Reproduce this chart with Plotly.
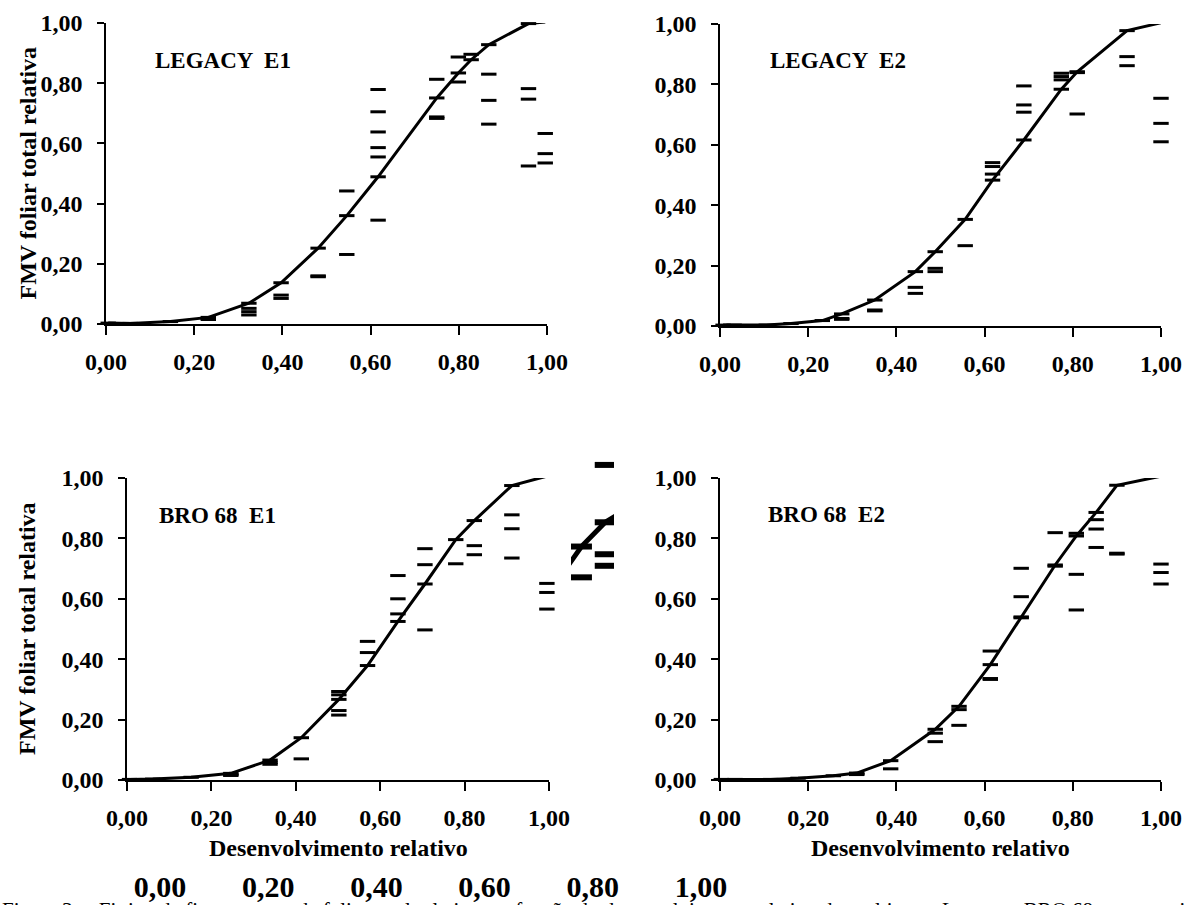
import plotly.graph_objects as go

W, H = 1192, 905

# ---------------- data ----------------
tick_values = [0.0, 0.2, 0.4, 0.6, 0.8, 1.0]
tick_labels = ["0,00", "0,20", "0,40", "0,60", "0,80", "1,00"]
panel_labels = ["LEGACY  E1", "LEGACY  E2", "BRO 68  E1", "BRO 68  E2"]
y_title = "FMV foliar total relativa"
x_title = "Desenvolvimento relativo"
caption = ("Figura 3 \u2013  Fitting da fitomassa verde foliar total relativa em fun\u00e7\u00e3o do "
           "desenvolvimento relativo das cultivares Legacy e BRO 68 nos experimentos E1 e E2, "
           "Santa Maria, RS")

# LEGACY E1
leg1_fit_x = [0.005, 0.055, 0.146, 0.232, 0.324, 0.397, 0.481, 0.546, 0.617, 0.750, 0.799, 0.828, 0.868, 0.958, 0.996]
leg1_fit_y = [0.003, 0.002, 0.008, 0.022, 0.069, 0.137, 0.252, 0.360, 0.489, 0.751, 0.834, 0.878, 0.928, 0.998, 1.003]
leg1_obs_x = [0.232, 0.232, 0.324, 0.324, 0.324, 0.397, 0.397, 0.481, 0.481, 0.546, 0.546,
              0.617, 0.617, 0.617, 0.617, 0.617, 0.617, 0.750, 0.750, 0.750, 0.799, 0.799,
              0.828, 0.828, 0.868, 0.868, 0.868, 0.958, 0.958, 0.958, 0.996, 0.996, 0.996]
leg1_obs_y = [0.015, 0.018, 0.052, 0.041, 0.030, 0.096, 0.085, 0.157, 0.160, 0.442, 0.231,
              0.779, 0.705, 0.638, 0.586, 0.555, 0.345, 0.813, 0.688, 0.683, 0.887, 0.804,
              1.006, 0.896, 0.830, 0.743, 0.664, 0.782, 0.747, 0.525, 0.633, 0.566, 0.535]

# LEGACY E2
leg2_fit_x = [0.007, 0.032, 0.105, 0.161, 0.232, 0.276, 0.351, 0.443, 0.488, 0.556, 0.618, 0.689, 0.774, 0.810, 0.923, 1.000]
leg2_fit_y = [0.003, 0.003, 0.003, 0.008, 0.018, 0.040, 0.086, 0.180, 0.246, 0.353, 0.483, 0.616, 0.784, 0.842, 0.978, 1.004]
leg2_obs_x = [0.276, 0.276, 0.351, 0.351, 0.443, 0.443, 0.488, 0.488, 0.556, 0.618, 0.618, 0.618,
              0.689, 0.689, 0.689, 0.774, 0.774, 0.774, 0.810, 0.810, 0.810, 0.923, 0.923,
              1.000, 1.000, 1.000]
leg2_obs_y = [0.022, 0.025, 0.050, 0.053, 0.128, 0.108, 0.191, 0.180, 0.266, 0.541, 0.528, 0.503,
              0.795, 0.732, 0.708, 0.837, 0.826, 0.815, 1.004, 0.839, 0.702, 0.892, 0.862,
              0.754, 0.671, 0.610]

# BRO 68 E1
bro1_fit_x = [0.006, 0.061, 0.152, 0.246, 0.339, 0.413, 0.502, 0.570, 0.642, 0.706, 0.779, 0.823, 0.912, 0.995]
bro1_fit_y = [0.002, 0.003, 0.009, 0.022, 0.066, 0.140, 0.267, 0.379, 0.525, 0.649, 0.796, 0.859, 0.975, 1.006]
bro1_obs_x = [0.246, 0.246, 0.339, 0.339, 0.413, 0.502, 0.502, 0.502, 0.502, 0.570, 0.570,
              0.642, 0.642, 0.642, 0.706, 0.706, 0.706, 0.779, 0.823, 0.823, 0.823,
              0.912, 0.912, 0.912, 0.995, 0.995, 0.995]
bro1_obs_y = [0.015, 0.018, 0.052, 0.058, 0.070, 0.293, 0.282, 0.230, 0.215, 0.459, 0.422,
              0.677, 0.600, 0.550, 0.766, 0.713, 0.497, 0.716, 1.008, 0.776, 0.746,
              0.878, 0.832, 0.735, 0.651, 0.621, 0.566]

# BRO 68 E2
bro2_fit_x = [0.003, 0.034, 0.115, 0.177, 0.257, 0.310, 0.387, 0.488, 0.542, 0.613, 0.683, 0.760, 0.808, 0.853, 0.900, 1.000]
bro2_fit_y = [0.002, 0.002, 0.002, 0.006, 0.014, 0.023, 0.064, 0.168, 0.244, 0.382, 0.540, 0.712, 0.808, 0.886, 0.976, 1.006]
bro2_obs_x = [0.310, 0.310, 0.387, 0.488, 0.488, 0.542, 0.542, 0.613, 0.613, 0.613,
              0.683, 0.683, 0.683, 0.760, 0.760, 0.760, 0.808, 0.808, 0.808,
              0.853, 0.853, 0.853, 0.900, 0.900, 1.000, 1.000, 1.000]
bro2_obs_y = [0.018, 0.020, 0.037, 0.155, 0.127, 0.233, 0.181, 0.427, 0.336, 0.333,
              0.701, 0.607, 0.537, 1.008, 0.819, 0.708, 0.817, 0.681, 0.563,
              0.862, 0.831, 0.770, 0.751, 0.748, 0.715, 0.687, 0.649]

# ---------------- layout helpers (pixels) ----------------
def fx(px):
    return px / W

def fy(py):
    return 1 - py / H

FONT = "Liberation Serif"
BLACK = "#000000"

# x0, x1 (value 0 and 1 on x); ytop (value 1), ybot (value 0)
panels = [
    dict(x0=106, x1=547, ytop=23, ybot=324, lab=(153, 60)),
    dict(x0=720, x1=1161, ytop=24, ybot=326, lab=(768, 61)),
    dict(x0=127, x1=549, ytop=478, ybot=780, lab=(157, 515)),
    dict(x0=720, x1=1161, ytop=478, ybot=780, lab=(766, 514)),
]
series = [
    (leg1_fit_x, leg1_fit_y, leg1_obs_x, leg1_obs_y),
    (leg2_fit_x, leg2_fit_y, leg2_obs_x, leg2_obs_y),
    (bro1_fit_x, bro1_fit_y, bro1_obs_x, bro1_obs_y),
    (bro2_fit_x, bro2_fit_y, bro2_obs_x, bro2_obs_y),
]

fig = go.Figure()
layout = dict(
    template="none",
    width=W, height=H, margin=dict(l=0, r=0, t=0, b=0, pad=0, autoexpand=False),
    paper_bgcolor="white", plot_bgcolor="rgba(0,0,0,0)",
    showlegend=False,
    font=dict(family=FONT, color=BLACK),
)

tickfont = dict(family=FONT, size=24, color=BLACK, weight="bold")
annotations = []

for i, (p, (fxv, fyv, oxv, oyv)) in enumerate(zip(panels, series)):
    n = "" if i == 0 else str(i + 1)
    xa, ya = "x" + n, "y" + n
    marker = dict(symbol="line-ew", size=11, line=dict(width=3, color=BLACK), color=BLACK)
    fig.add_trace(go.Scatter(x=oxv, y=oyv, mode="markers", marker=marker,
                             xaxis=xa, yaxis=ya, cliponaxis=False, hoverinfo="skip"))
    fig.add_trace(go.Scatter(x=fxv, y=fyv, mode="lines+markers", marker=marker,
                             line=dict(color=BLACK, width=3),
                             xaxis=xa, yaxis=ya, cliponaxis=False, hoverinfo="skip"))
    layout["xaxis" + n] = dict(
        domain=[fx(p["x0"]), fx(p["x1"])], range=[0, 1], anchor=ya, automargin=False,
        showline=True, linecolor=BLACK, linewidth=1.5, showgrid=False, zeroline=False,
        ticks="outside", ticklen=9, tickwidth=1.5, tickcolor=BLACK,
        tickvals=tick_values, ticktext=tick_labels, tickfont=tickfont,
        ticklabelstandoff=6,
    )
    layout["yaxis" + n] = dict(
        domain=[fy(p["ybot"]), fy(p["ytop"])], range=[0, 1], anchor=xa, automargin=False,
        showline=True, linecolor=BLACK, linewidth=1.5, showgrid=False, zeroline=False,
        ticks="outside", ticklen=7, tickwidth=1.5, tickcolor=BLACK,
        tickvals=tick_values, ticktext=tick_labels, tickfont=tickfont,
        ticklabelstandoff=10,
    )
    lx, ly = p["lab"]
    annotations.append(dict(text=panel_labels[i], x=fx(lx), y=fy(ly), xref="paper", yref="paper",
                            xanchor="left", yanchor="middle", showarrow=False,
                            font=dict(family=FONT, size=23, color=BLACK, weight="bold")))

# y-axis titles (left column) and x-axis titles (bottom row)
for p in (panels[0], panels[2]):
    annotations.append(dict(text=y_title, x=fx(27), y=fy((p["ytop"] + p["ybot"]) / 2),
                            xref="paper", yref="paper", textangle=-90, showarrow=False,
                            xanchor="center", yanchor="middle",
                            font=dict(family=FONT, size=24, color=BLACK, weight="bold")))
for p in (panels[2], panels[3]):
    annotations.append(dict(text=x_title, x=fx((p["x0"] + p["x1"]) / 2), y=fy(848),
                            xref="paper", yref="paper", showarrow=False,
                            xanchor="center", yanchor="middle",
                            font=dict(family=FONT, size=24, color=BLACK, weight="bold")))

# ---------------- scanned overlap artifact (enlarged copy of BRO 68 E1) ----------------
ART_X0, ART_X1 = 160, 701     # pixel of value 0 and 1 on enlarged x
ART_Y0, ART_Y1 = 853, 468     # pixel of value 0 and 1 on enlarged y
def av_x(px):
    return (px - ART_X0) / (ART_X1 - ART_X0)
def av_y(py):
    return (ART_Y0 - py) / (ART_Y0 - ART_Y1)

win_l, win_r, win_t, win_b = 571, 614, 445, 600
big_marker = dict(symbol="line-ew", size=15, line=dict(width=6, color=BLACK), color=BLACK)
fig.add_trace(go.Scatter(x=bro1_obs_x, y=bro1_obs_y, mode="markers", marker=big_marker,
                         xaxis="x5", yaxis="y5", hoverinfo="skip"))
fig.add_trace(go.Scatter(x=bro1_fit_x, y=bro1_fit_y, mode="lines+markers", marker=big_marker,
                         line=dict(color=BLACK, width=5), xaxis="x5", yaxis="y5", hoverinfo="skip"))
layout["xaxis5"] = dict(domain=[fx(win_l), fx(win_r)], range=[av_x(win_l), av_x(win_r)],
                        anchor="y5", visible=False, automargin=False)
layout["yaxis5"] = dict(domain=[fy(win_b), fy(win_t)], range=[av_y(win_b), av_y(win_t)],
                        anchor="x5", visible=False, automargin=False)
# piece of enlarged x axis line with tick
layout["xaxis6"] = dict(domain=[fx(win_l), fx(win_r)], range=[av_x(win_l), av_x(win_r)],
                        anchor="y6", showline=True, linecolor=BLACK, linewidth=1.5,
                        showgrid=False, zeroline=False, ticks="outside", ticklen=10,
                        tickwidth=1.5, tickcolor=BLACK, tickvals=[tick_values[4]],
                        showticklabels=False, automargin=False)
layout["yaxis6"] = dict(domain=[fy(ART_Y0), fy(ART_Y0 - 10)], range=[0, 1], anchor="x6",
                        visible=False, automargin=False)
# enlarged tick labels
layout["xaxis7"] = dict(domain=[fx(ART_X0), fx(ART_X1)], range=[0, 1], anchor="y6",
                        showline=False, showgrid=False, zeroline=False, ticks="",
                        tickvals=tick_values, ticktext=tick_labels, ticklabelstandoff=13,
                        automargin=False,
                        tickfont=dict(family=FONT, size=30, color=BLACK, weight="bold"))
fig.add_trace(go.Scatter(x=[None], y=[None], xaxis="x7", yaxis="y6", showlegend=False,
                         hoverinfo="skip"))

# caption (cut by the page edge)
annotations.append(dict(text=caption, x=0, y=fy(896), xref="paper", yref="paper",
                        xanchor="left", yanchor="top", showarrow=False, align="left",
                        font=dict(family=FONT, size=21, color=BLACK)))

layout["annotations"] = annotations
fig.update_layout(**layout)

fig.write_html("out.html", config={"displayModeBar": False},
               post_script="document.body.style.margin='0';document.body.style.overflow='hidden';")
